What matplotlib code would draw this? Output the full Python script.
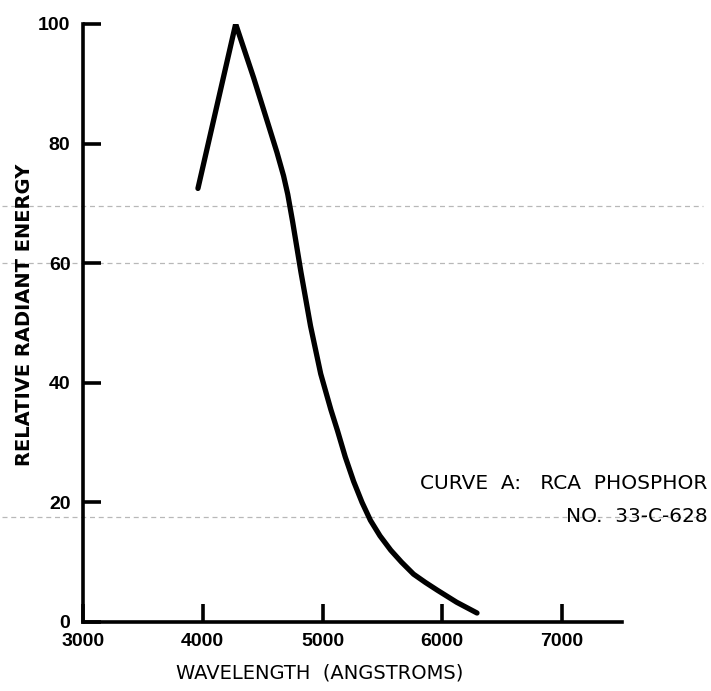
import matplotlib
matplotlib.use("Agg")
import matplotlib.pyplot as plt

# spectral curve
wavelength = [3960, 4275, 4425, 4550, 4620, 4675, 4710, 4750, 4820, 4900,
              4985, 5070, 5125, 5190, 5260, 5330, 5400, 5480, 5570, 5660,
              5760, 5860, 5960, 6120, 6290]
energy = [72.5, 100, 91, 83, 78.5, 74.6, 71.5, 67, 58.5, 49.5,
          41.5, 35.5, 32, 27.6, 23.5, 20, 17, 14.4, 12, 10,
          8, 6.6, 5.3, 3.3, 1.5]

x_ticks = [3000, 4000, 5000, 6000, 7000]
y_ticks = [0, 20, 40, 60, 80, 100]

# faint scan streaks running across the page
streaks = [69.5, 60, 17.5]

fig = plt.figure(figsize=(7.11, 6.91), dpi=100)
ax = fig.add_axes([0.1167, 0.0999, 0.758, 0.8654])

for s in streaks:
    ax.axhline(s, xmin=-0.15, xmax=1.15, color='#b8b8b8', lw=0.9,
               ls=(0, (4, 3)), clip_on=False, zorder=0)

ax.plot(wavelength, energy, color='black', lw=3.8, solid_capstyle='round',
        solid_joinstyle='round', zorder=3)

ax.set_xlim(3000, 7500)
ax.set_ylim(0, 100)
ax.set_xticks(x_ticks)
ax.set_yticks(y_ticks)
ax.spines['top'].set_visible(False)
ax.spines['right'].set_visible(False)
ax.spines['left'].set_linewidth(2.6)
ax.spines['bottom'].set_linewidth(2.6)
ax.tick_params(direction='in', length=13, width=2.6)
ax.tick_params(axis='y', pad=9)
ax.tick_params(axis='x', pad=8)
for lab in ax.get_xticklabels() + ax.get_yticklabels():
    lab.set_fontweight('bold')
    lab.set_fontfamily(['Liberation Sans', 'DejaVu Sans'])
    lab.set_fontsize(14)

fig.text(0.45, 0.026, 'WAVELENGTH  (ANGSTROMS)', ha='center', va='center',
         fontsize=14)
fig.text(0.034, 0.544, 'RELATIVE RADIANT ENERGY', rotation=90, ha='center',
         va='center', fontsize=14, fontweight='bold')

fig.text(0.995, 0.301, 'CURVE  A:   RCA  PHOSPHOR', ha='right', va='center',
         fontsize=14.5)
fig.text(0.995, 0.252, 'NO.  33-C-628', ha='right', va='center', fontsize=14.5)

plt.savefig('out.png', dpi=100)
